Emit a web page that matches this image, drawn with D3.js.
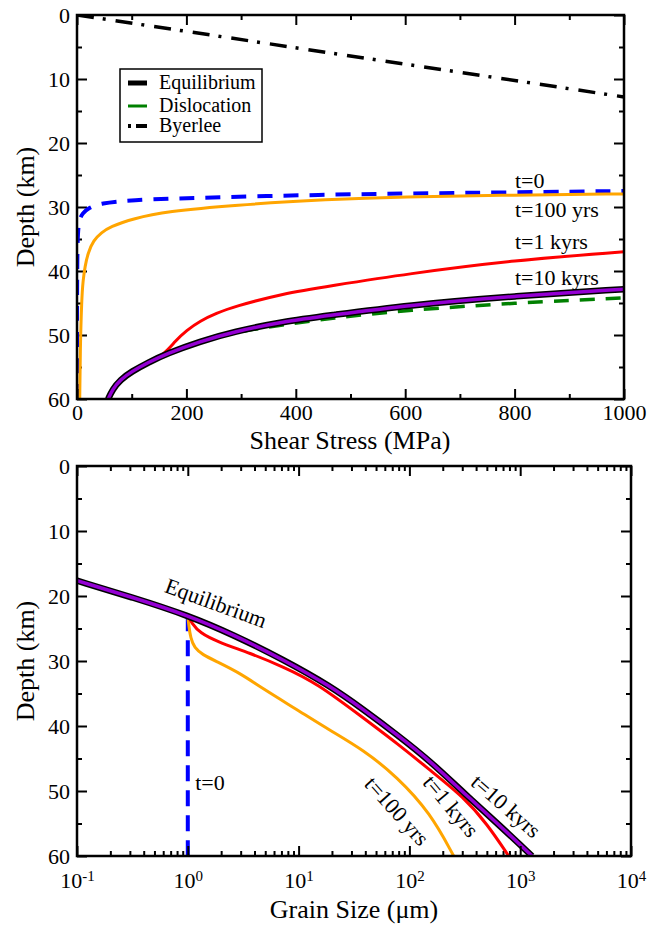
<!DOCTYPE html>
<html><head><meta charset="utf-8">
<script src="https://cdn.jsdelivr.net/npm/d3@7"></script>
<style>
body{margin:0;background:#fff}
svg{display:block}
svg text{font-family:"Liberation Serif",serif !important;fill:#000}
</style>
</head><body>
<svg id="c" width="650" height="927" font-family="Liberation Serif, serif"></svg>
<script>
// ---------- Top panel data (shear stress MPa, depth km) ----------
const stressTicks = [0, 200, 400, 600, 800, 1000];
const stressMinor = [100, 300, 500, 700, 900];
const depthTicks = [0, 10, 20, 30, 40, 50, 60];
const depthMinor = [5, 15, 25, 35, 45, 55];

const byerleeStress = [0, 1000];
const byerleeDepth  = [0, 12.8];

const t0Stress = [0, 0, 0.5, 1.5, 4, 10, 20, 42, 100, 200, 462, 600, 800, 1000];
const t0Depth  = [60, 45, 38, 34, 32, 31, 30.2, 29.4, 28.9, 28.6, 28.05, 27.9, 27.7, 27.5];

const t100Stress = [5, 6, 8.5, 11, 14.6, 20, 30, 45, 60, 103, 164, 286, 462, 590, 800, 1000];
const t100Depth  = [60, 52, 44.5, 41.5, 39.3, 37.2, 35.2, 34, 33.1, 31.8, 30.7, 29.7, 28.8, 28.4, 28.15, 27.95];

const t1kStress = [57, 65, 79, 100, 130, 160, 180, 200, 225, 255, 286, 377, 462, 603, 800, 1000];
const t1kDepth  = [60, 58.5, 57, 55.7, 54.3, 53.0, 50.9, 49.3, 47.8, 46.6, 45.6, 43.5, 42.35, 40.45, 38.3, 37.0];

const dislStress = [57, 65, 79, 100, 130, 164, 225, 286, 377, 462, 603, 800, 1000];
const dislDepth  = [60, 58.5, 57, 55.7, 54.3, 52.9, 51, 49.6, 48.4, 47.4, 46.1, 45.0, 44.2];

const eqStress = [57, 65, 79, 100, 130, 164, 225, 286, 377, 462, 603, 800, 1000];
const eqDepth  = [60, 58.5, 57, 55.7, 54.3, 52.9, 51, 49.5, 47.9, 46.95, 45.35, 43.9, 42.85];

// ---------- Bottom panel data (grain size um, depth km) ----------
const grainTicks = [0.1, 1, 10, 100, 1000, 10000];
const grainExp = ["-1", "0", "1", "2", "3", "4"];

const gEqSize  = [0.1, 0.323, 1.0, 2.58, 7.3, 19.3, 38.6, 77.3, 155, 309, 618, 1279];
const gEqDepth = [17.65, 20.25, 22.97, 25.97, 29.8, 33.85, 37.49, 41.34, 45.43, 50.3, 54.92, 60];

const gT0Size  = [1, 1];
const gT0Depth = [22.97, 60];

const gT100Size  = [1, 1.02, 1.06, 1.15, 1.35, 1.83, 2.98, 4.7, 9.5, 19.3, 38.6, 77.3, 155, 251];
const gT100Depth = [22.97, 24.5, 26.5, 28.0, 29.0, 30.1, 31.9, 34.2, 37.4, 40.7, 43.7, 47.8, 53.4, 60];

const gT1kSize  = [1, 1.087, 1.29, 1.83, 3.65, 7.3, 14.6, 38.6, 77.3, 155, 309, 502, 787];
const gT1kDepth = [22.97, 24.2, 25.7, 27.0, 28.8, 30.9, 33.4, 38.8, 42.66, 46.85, 50.95, 55.05, 60];

// ---------- drawing ----------
const svg = d3.select("#c");
const C = {blue:"#0000ff", orange:"#ffa500", red:"#ff0000", green:"#008000", purple:"#9400d3", black:"#000"};
const zip = (a, b) => a.map((v, i) => [v, b[i]]);

function styleAxis(g, fs) {
  g.attr("font-family", null).attr("font-size", fs);
  g.select(".domain").remove();
  g.selectAll("line").attr("stroke", "#000").attr("stroke-width", 2);
}

function panel(x, y, xMaj, xMin, id) {
  const [x0, x1] = x.range(), [y0, y1] = y.range();
  svg.append("clipPath").attr("id", id).append("rect")
    .attr("x", x0).attr("y", y0).attr("width", x1 - x0).attr("height", y1 - y0);
  svg.append("g").attr("transform", `translate(0,${y1})`)
    .call(d3.axisBottom(x).tickValues(xMin).tickSizeInner(-5).tickSizeOuter(0).tickFormat(""))
    .call(g => styleAxis(g, 22));
  svg.append("g").attr("transform", `translate(0,${y0})`)
    .call(d3.axisTop(x).tickValues(xMin).tickSizeInner(-5).tickSizeOuter(0).tickFormat(""))
    .call(g => styleAxis(g, 22));
  svg.append("g").attr("transform", `translate(0,${y0})`)
    .call(d3.axisTop(x).tickValues(xMaj).tickSizeInner(-10).tickSizeOuter(0).tickFormat(""))
    .call(g => styleAxis(g, 22));
  svg.append("g").attr("transform", `translate(${x0},0)`)
    .call(d3.axisLeft(y).tickValues(depthTicks).tickSizeInner(-10).tickSizeOuter(0).tickPadding(7).tickFormat(d3.format("d")))
    .call(g => styleAxis(g, 22));
  svg.append("g").attr("transform", `translate(${x0},0)`)
    .call(d3.axisLeft(y).tickValues(depthMinor).tickSizeInner(-5).tickSizeOuter(0).tickFormat(""))
    .call(g => styleAxis(g, 22));
  svg.append("g").attr("transform", `translate(${x1},0)`)
    .call(d3.axisRight(y).tickValues(depthTicks).tickSizeInner(-10).tickSizeOuter(0).tickFormat(""))
    .call(g => styleAxis(g, 22));
  svg.append("g").attr("transform", `translate(${x1},0)`)
    .call(d3.axisRight(y).tickValues(depthMinor).tickSizeInner(-5).tickSizeOuter(0).tickFormat(""))
    .call(g => styleAxis(g, 22));
  return svg.append("g").attr("clip-path", `url(#${id})`);
}

function frame(x, y) {
  const [x0, x1] = x.range(), [y0, y1] = y.range();
  svg.append("rect").attr("x", x0).attr("y", y0).attr("width", x1 - x0).attr("height", y1 - y0)
    .attr("fill", "none").attr("stroke", "#000").attr("stroke-width", 2.5);
}

// ===== Top panel =====
const xT = d3.scaleLinear().domain([0, 1000]).range([77, 624]);
const yT = d3.scaleLinear().domain([0, 60]).range([15, 399]);
const gT = panel(xT, yT, stressTicks, stressMinor, "clipT");
svg.append("g").attr("transform", `translate(0,399)`)
  .call(d3.axisBottom(xT).tickValues(stressTicks).tickSizeInner(-10).tickSizeOuter(0).tickPadding(5).tickFormat(d3.format("d")))
  .call(g => styleAxis(g, 22));

const lineT = d3.line().x(d => xT(d[0])).y(d => yT(d[1])).curve(d3.curveBasis);
const drawT = (data, color, w, dash) => gT.append("path").attr("d", lineT(data))
  .attr("fill", "none").attr("stroke", color).attr("stroke-width", w)
  .attr("stroke-dasharray", dash || null).attr("stroke-linejoin", "round");

drawT(zip(byerleeStress, byerleeDepth), C.black, 3.5, "17,9,3,10");
drawT(zip(t0Stress, t0Depth), C.blue, 4, "15,11");
drawT(zip(t100Stress, t100Depth), C.orange, 3, null);
drawT(zip(t1kStress, t1kDepth), C.red, 3, null);
drawT(zip(dislStress, dislDepth), C.green, 3.5, "15,11");
drawT(zip(eqStress, eqDepth), C.black, 6.5, null);
drawT(zip(eqStress, eqDepth), C.purple, 3.5, null);
frame(xT, yT);

// legend
const lg = svg.append("g");
lg.append("rect").attr("x", 120).attr("y", 69).attr("width", 142).attr("height", 73)
  .attr("fill", "#fff").attr("stroke", "#000").attr("stroke-width", 1.5);
const legendItems = [
  {label: "Equilibrium", color: C.black, w: 5, dash: null, y: 83},
  {label: "Dislocation", color: C.green, w: 3, dash: null, y: 106},
  {label: "Byerlee", color: C.black, w: 4, dash: "3,5,12,10", y: 126}
];
legendItems.forEach(d => {
  lg.append("line").attr("x1", 128).attr("x2", 147).attr("y1", d.y).attr("y2", d.y)
    .attr("stroke", d.color).attr("stroke-width", d.w).attr("stroke-dasharray", d.dash);
  lg.append("text").attr("x", 159).attr("y", d.y + 6).attr("font-size", 20).text(d.label);
});

// annotations top
const topLabels = [["t=0", 188], ["t=100 yrs", 217], ["t=1 kyrs", 249], ["t=10 kyrs", 285]];
topLabels.forEach(([t, yy]) => svg.append("text").attr("x", 515).attr("y", yy).attr("font-size", 22).text(t));

// axis titles top
svg.append("text").attr("x", 350).attr("y", 449).attr("text-anchor", "middle").attr("font-size", 26).text("Shear Stress (MPa)");
svg.append("text").attr("transform", "translate(34,207) rotate(-90)").attr("text-anchor", "middle").attr("font-size", 26).text("Depth (km)");

// ===== Bottom panel =====
const xB = d3.scaleLog().domain([0.1, 10000]).range([77, 631]);
const yB = d3.scaleLinear().domain([0, 60]).range([466, 856]);
const grainMinor = [];
grainTicks.slice(0, -1).forEach(d => { for (let k = 2; k <= 9; k++) grainMinor.push(d * k); });
const gB = panel(xB, yB, grainTicks, grainMinor, "clipB");
svg.append("g").attr("transform", `translate(0,856)`)
  .call(d3.axisBottom(xB).tickValues(grainTicks).tickSizeInner(-10).tickSizeOuter(0).tickPadding(16))
  .call(g => styleAxis(g, 22))
  .call(g => g.selectAll(".tick text").each(function(d, i) {
    const t = d3.select(this).text(null);
    t.append("tspan").text("10");
    t.append("tspan").attr("dy", "-0.45em").attr("font-size", 15).text(grainExp[i]);
  }));

const lineB = d3.line().x(d => xB(d[0])).y(d => yB(d[1])).curve(d3.curveBasis);
const drawB = (data, color, w, dash) => gB.append("path").attr("d", lineB(data))
  .attr("fill", "none").attr("stroke", color).attr("stroke-width", w)
  .attr("stroke-dasharray", dash || null).attr("stroke-linejoin", "round");

drawB(zip(gT0Size, gT0Depth), C.blue, 4, "16,9");
drawB(zip(gT100Size, gT100Depth), C.orange, 3, null);
drawB(zip(gT1kSize, gT1kDepth), C.red, 3, null);
drawB(zip(gEqSize, gEqDepth), C.black, 6.5, null);
drawB(zip(gEqSize, gEqDepth), C.purple, 3.5, null);
frame(xB, yB);

// annotations bottom
const botLabels = [
  {t: "Equilibrium", x: 216, y: 603, r: 20},
  {t: "t=0", x: 210, y: 782, r: 0},
  {t: "t=100 yrs", x: 397, y: 811, r: 48},
  {t: "t=1 kyrs", x: 451, y: 806, r: 50},
  {t: "t=10 kyrs", x: 506, y: 806, r: 41}
];
botLabels.forEach(d => svg.append("text")
  .attr("transform", `translate(${d.x},${d.y}) rotate(${d.r})`)
  .attr("text-anchor", "middle").attr("dominant-baseline", "central")
  .attr("font-size", 22).text(d.t));

svg.append("text").attr("x", 354).attr("y", 918).attr("text-anchor", "middle").attr("font-size", 26).text("Grain Size (μm)");
svg.append("text").attr("transform", "translate(34,661) rotate(-90)").attr("text-anchor", "middle").attr("font-size", 26).text("Depth (km)");
</script>
</body></html>
